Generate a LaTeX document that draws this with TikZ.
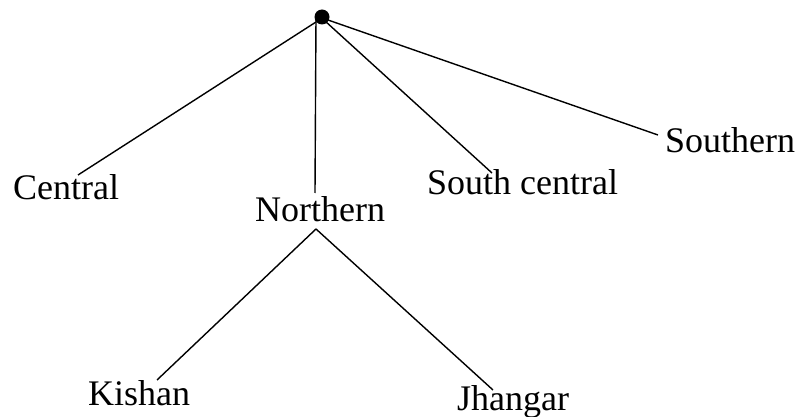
\documentclass[tikz,border=0pt]{standalone}
\usepackage{fontspec}
\setmainfont{Liberation Serif}
\begin{document}
\begin{tikzpicture}[x=1pt,y=1pt,
  lbl/.style={anchor=base west,inner sep=0pt,font=\fontsize{36}{40}\selectfont},
  edge/.style={line width=1.4pt,black},
  dot/.style={circle,fill=black,inner sep=0pt,minimum size=15pt}]
\useasboundingbox (0,0) rectangle (804,-417);
\node[dot] (root) at (322,-17) {};
\node[lbl] (central) at (13,-200) {Central};
\node[lbl] (northern) at (255,-222) {Northern};
\node[lbl] (southcentral) at (427,-195) {South central};
\node[lbl] (southern) at (665,-153) {Southern};
\node[lbl] (kishan) at (88,-405) {Kishan};
\node[lbl] (jhangar) at (457,-410) {Jhangar};
\coordinate (hub) at ([shift={(-6,-5)}]root.center);
\draw[edge] (hub) -- ([shift={(65,25)}]central.base west);
\draw[edge] ([xshift=-6pt]root.center) -- ([shift={(60,29)}]northern.base west);
\draw[edge] ([shift={(3,-4)}]root.center) -- ([shift={(65,22)}]southcentral.base west);
\draw[edge] ([shift={(6,-3)}]root.center) -- ([shift={(-7,18)}]southern.base west);
\draw[edge] ([shift={(61,-7)}]northern.base west) -- ([shift={(69,25)}]kishan.base west);
\draw[edge] ([shift={(61,-7)}]northern.base west) -- ([shift={(36,20)}]jhangar.base west);
\end{tikzpicture}
\end{document}
